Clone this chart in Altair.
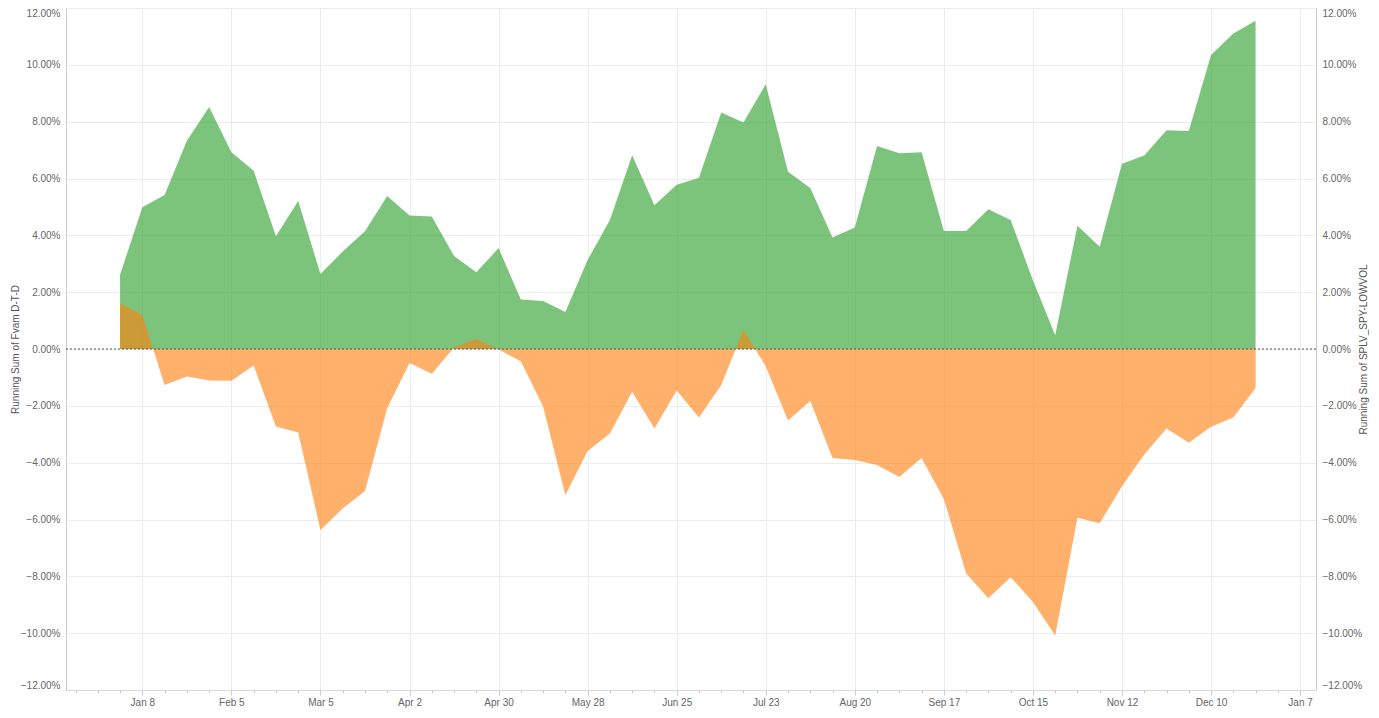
import altair as alt
import pandas as pd

# weekly observations (Mondays of 2018)
weeks = [d.strftime("%Y-%m-%d") for d in pd.date_range("2018-01-01", periods=52, freq="7D")]

fvam = [2.61, 4.99, 5.42, 7.33, 8.52,
        6.92, 6.27, 3.97, 5.21,
        2.64, 3.43, 4.14, 5.38,
        4.70, 4.66, 3.27, 2.70, 3.55,
        1.74, 1.69, 1.30, 3.13,
        4.54, 6.82, 5.06, 5.78,
        6.03, 8.32, 7.97, 9.32, 6.24,
        5.67, 3.92, 4.28, 7.14,
        6.89, 6.92, 4.15, 4.15,
        4.92, 4.54, 2.42, 0.48, 4.34,
        3.60, 6.52, 6.81, 7.70,
        7.67, 10.35, 11.10, 11.55]

splv = [1.61, 1.20, -1.27, -0.97, -1.11,
        -1.12, -0.58, -2.73, -2.94,
        -6.37, -5.61, -5.00, -2.08,
        -0.49, -0.87, 0.05, 0.35, -0.02,
        -0.43, -2.02, -5.15, -3.59,
        -2.97, -1.50, -2.80, -1.46,
        -2.41, -1.27, 0.68, -0.61, -2.52,
        -1.83, -3.84, -3.91, -4.08,
        -4.50, -3.84, -5.28, -7.89,
        -8.77, -8.03, -8.90, -10.08, -5.94,
        -6.13, -4.83, -3.71, -2.80,
        -3.30, -2.74, -2.41, -1.37]

y_ticks = [-0.12, -0.10, -0.08, -0.06, -0.04, -0.02, 0.0, 0.02, 0.04, 0.06, 0.08, 0.10, 0.12]
x_tick_dates = pd.date_range("2017-12-18", "2019-01-07", freq="7D", tz="UTC")
x_ticks = [int(t.timestamp() * 1000) for t in x_tick_dates]

df_f = pd.DataFrame({"date": weeks, "value": [v / 100 for v in fvam]})
df_s = pd.DataFrame({"date": weeks, "value": [v / 100 for v in splv]})
df_zero = pd.DataFrame({"value": [0.0]})

FONT = "Liberation Sans"
major = "round((datum.value - utc(2018,0,8)) / 604800000) % 4 == 0"

x_scale = alt.Scale(type="utc",
                    domain=[alt.DateTime(year=2017, month=12, date=15, utc=True),
                            alt.DateTime(year=2019, month=1, date=12, utc=True)])
x_axis = alt.Axis(values=x_ticks, title=None, labelOverlap=False,
                  labelExpr=f"{major} ? utcFormat(datum.value, '%b %-d') : ''",
                  grid=True, gridColor="#ececec",
                  gridOpacity={"condition": {"test": major, "value": 1}, "value": 0},
                  tickSize={"condition": {"test": major, "value": 5}, "value": 3},
                  tickColor="#cccccc", domainColor="#d9d9d9",
                  labelColor="#666666", labelFontSize=10, labelFont=FONT, labelPadding=2)

y_scale = alt.Scale(domain=[-0.12, 0.12], nice=False, zero=False)

def y_axis(title, orient, grid, title_x):
    return alt.Axis(values=y_ticks, format=".2%", labelFlush=True, orient=orient,
                    grid=grid, gridColor="#ececec", ticks=False,
                    domainColor="#cccccc", title=title, titleFont=FONT,
                    titleFontSize=10, titleFontWeight="normal", titleColor="#555555",
                    titleAngle=270, titleX=title_x,
                    labelColor="#666666", labelFontSize=10, labelFont=FONT, labelPadding=6)

green = alt.Chart(df_f).mark_area(color="#2ca02c", opacity=0.62, interpolate="linear").encode(
    x=alt.X("date:T", scale=x_scale, axis=x_axis),
    y=alt.Y("value:Q", scale=y_scale, stack=None,
            axis=y_axis("Running Sum of Fvam D-T-D", "left", True, -46)),
    y2=alt.datum(0),
)

orange = alt.Chart(df_s).mark_area(color="#ff7f0e", opacity=0.62, interpolate="linear").encode(
    x=alt.X("date:T", scale=x_scale, axis=x_axis),
    y=alt.Y("value:Q", scale=y_scale, stack=None,
            axis=y_axis("Running Sum of SPLV_SPY-LOWVOL", "right", False, 52)),
    y2=alt.datum(0),
)

zero = alt.Chart(df_zero).mark_rule(color="#555555", strokeDash=[2, 2], strokeWidth=1).encode(
    y=alt.Y("value:Q", scale=y_scale, axis=None),
)

chart = alt.layer(green, orange, zero).resolve_scale(y="independent").properties(
    width=1250, height=682,
    padding={"left": 58, "right": 55, "top": 0, "bottom": 18},
    autosize=alt.AutoSizeParams(type="none"),
).configure_view(stroke="#e3e3e3")

chart.save("out.html", embed_options={"renderer": "svg", "actions": False})
